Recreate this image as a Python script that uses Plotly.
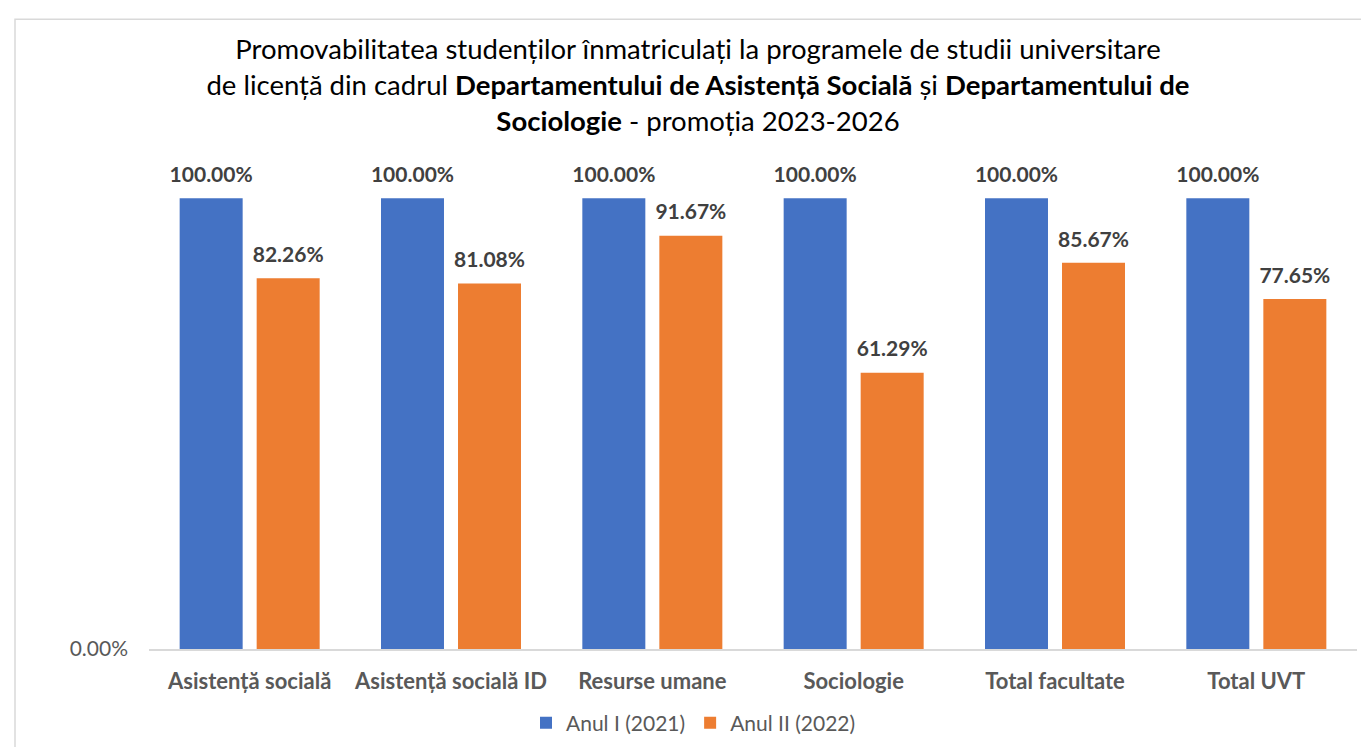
import plotly.graph_objects as go

categories = ["Asistență socială", "Asistență socială ID", "Resurse umane",
              "Sociologie", "Total facultate", "Total UVT"]
anul_1 = [1.0, 1.0, 1.0, 1.0, 1.0, 1.0]
anul_2 = [0.8226, 0.8108, 0.9167, 0.6129, 0.8567, 0.7765]
series_names = ["Anul I (2021)", "Anul II (2022)"]
y_ticks = [0.0]

FONT = "Lato"
L, R, T, B = 141, 20, 106, 99
W, H = 1369, 747
pw, ph = W - L - R, H - T - B
BARGAP = 0.235

fig = go.Figure()
for k, (name, vals, col) in enumerate([(series_names[0], anul_1, "#4472C4"),
                                       (series_names[1], anul_2, "#ED7D31")]):
    fig.add_trace(go.Bar(
        x=categories, y=vals, name=name, offsetgroup=str(k),
        marker=dict(color=col, line=dict(width=0)),
        cliponaxis=False,
    ))
for k, vals in enumerate([anul_1, anul_2]):
    fig.add_trace(go.Scatter(
        x=categories, y=vals, offsetgroup=str(k), mode="markers+text",
        marker=dict(size=16, opacity=0, color="white"),
        texttemplate="%{y:.2%}", textposition="top center",
        textfont=dict(family=FONT, size=21, color="#404040", weight="bold"),
        showlegend=False, hoverinfo="skip", cliponaxis=False,
    ))

title_text = ("Promovabilitatea studenților înmatriculați la programele de studii universitare<br>"
              "de licență din cadrul <b>Departamentului de Asistență Socială</b> și <b>Departamentului de</b><br>"
              "<b>Sociologie</b> - promoția 2023-2026")

fig.update_layout(
    width=W, height=H,
    margin=dict(l=L, r=R, t=T, b=B),
    paper_bgcolor="white", plot_bgcolor="white",
    barmode="group", bargap=BARGAP, bargroupgap=0.182,
    scattermode="group", scattergap=BARGAP,
    title=dict(text=title_text, x=690 / W, xanchor="center", xref="container",
               y=1 - 51 / H, yref="container", yanchor="top",
               font=dict(family=FONT, size=27.5, color="#000000")),
    showlegend=True,
    legend=dict(orientation="h", x=(518 - L) / pw, xanchor="left",
                y=(0 - 75) / ph, yanchor="middle",
                font=dict(family=FONT, size=21, color="#595959"),
                itemwidth=30),
    xaxis=dict(showgrid=False, showline=True, linecolor="#D9D9D9", linewidth=2,
               ticks="", ticklabelstandoff=12,
               tickfont=dict(family=FONT, size=22, color="#595959", weight="bold")),
    yaxis=dict(range=[0, 1.1867], showgrid=False, showline=False, zeroline=False,
               tickvals=y_ticks, tickformat=".2%", ticks="", ticklabelstandoff=20,
               tickfont=dict(family=FONT, size=21, color="#595959")),
    shapes=[dict(type="rect", xref="paper", yref="paper",
                 x0=(7 - L) / pw, x1=(W + 20 - L) / pw,
                 y0=(T + ph - (H + 20)) / ph, y1=(T + ph - 10) / ph,
                 line=dict(color="#D9D9D9", width=1.5), fillcolor="rgba(0,0,0,0)",
                 layer="below")],
)
fig.write_html("out.html")
